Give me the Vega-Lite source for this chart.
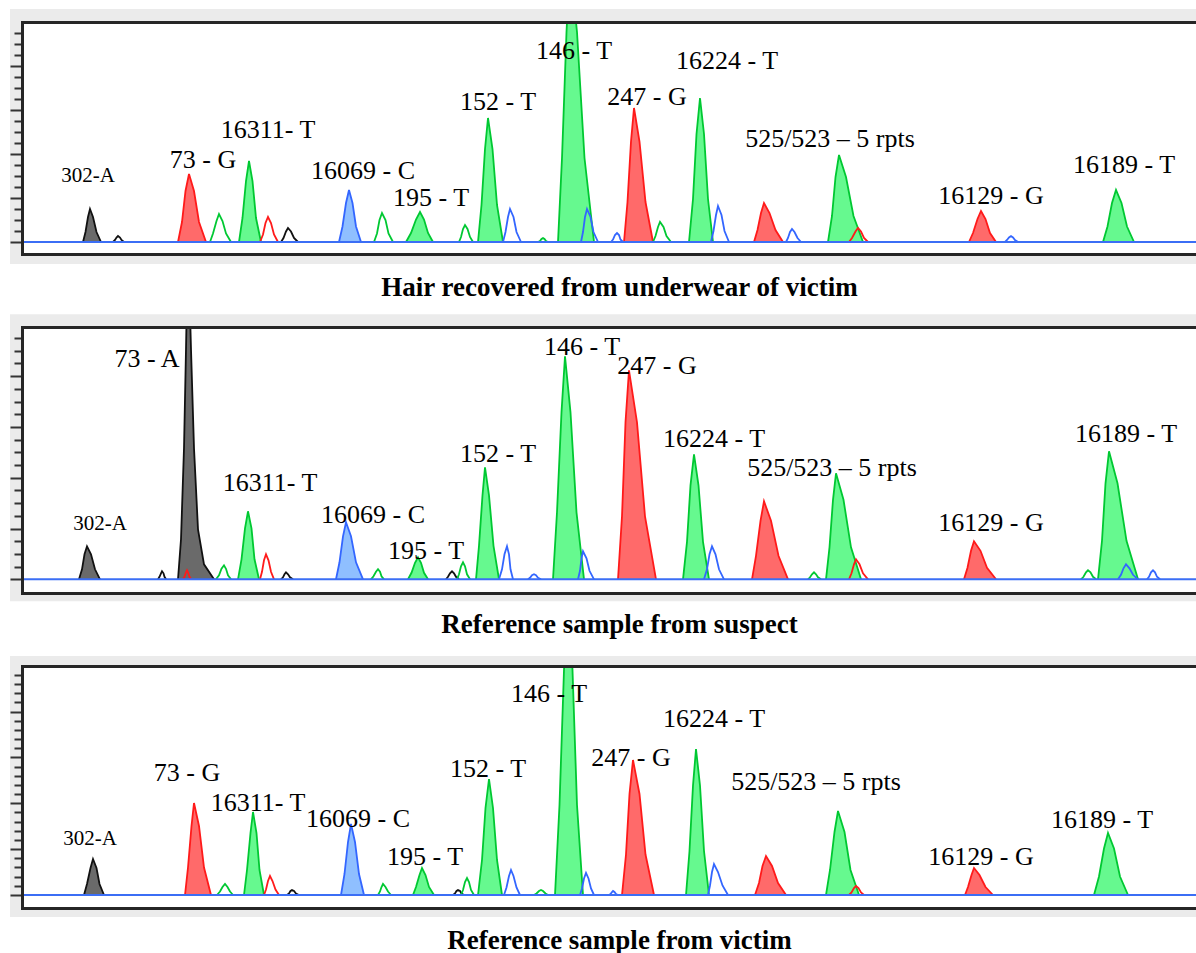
{
  "$schema": "https://vega.github.io/schema/vega-lite/v6.json",
  "padding": {"left": 9, "top": 8, "right": 0, "bottom": 0},
  "config": {"view": {"stroke": null}},
  "bounds": "flush",
  "spacing": 73,
  "resolve": {"scale": {"x": "independent", "y": "independent"}},
  "datasets": {
    "peaks": [
      {"panel": 1, "id": "a1", "dye": "black", "filled": true, "xs": [82,84.5,87,89,92,95.5,100], "ys": [0,10,25,33,25,10,0]},
      {"panel": 1, "id": "a2", "dye": "black", "filled": false, "xs": [112,114,115.5,117,119,120.5,123], "ys": [0,2,4.5,6,4.5,2,0]},
      {"panel": 1, "id": "a3", "dye": "red", "filled": true, "xs": [177,181,184.5,188,193,198,205], "ys": [0,20,51,68,51,20,0]},
      {"panel": 1, "id": "a4", "dye": "green", "filled": false, "xs": [209,212,215.5,218,221.5,225,230], "ys": [0,8.5,21,28,21,8.5,0]},
      {"panel": 1, "id": "a5", "dye": "green", "filled": true, "xs": [238,241.5,245,248,251.5,255,260], "ys": [0,24,61,81,61,24,0]},
      {"panel": 1, "id": "a6", "dye": "red", "filled": false, "xs": [259,262,264.5,267,270,273,277], "ys": [0,7.5,19,25,19,7.5,0]},
      {"panel": 1, "id": "a7", "dye": "black", "filled": false, "xs": [280,282.5,285,287,290,293,297], "ys": [0,4,10.5,14,10.5,4,0]},
      {"panel": 1, "id": "a8", "dye": "blue", "filled": true, "xs": [338,341.5,345,348,351.5,355,360], "ys": [0,15.5,39,52,39,15.5,0]},
      {"panel": 1, "id": "a9", "dye": "green", "filled": false, "xs": [373,376,378.5,381,384.5,387.5,392], "ys": [0,8.5,22,29,22,8.5,0]},
      {"panel": 1, "id": "a10", "dye": "green", "filled": true, "xs": [405,410,415,419,423,427,432], "ys": [0,9,22.5,30,22.5,9,0]},
      {"panel": 1, "id": "a11", "dye": "green", "filled": false, "xs": [458,460,462,464,466.5,469,472], "ys": [0,5,13,17,13,5,0]},
      {"panel": 1, "id": "a12", "dye": "green", "filled": true, "xs": [477,480.5,484,487,491.5,496,502], "ys": [0,37,93,124,93,37,0]},
      {"panel": 1, "id": "a13", "dye": "blue", "filled": false, "xs": [502,504.5,507,509,512.5,515.5,520], "ys": [0,10,25,33,25,10,0]},
      {"panel": 1, "id": "a14", "dye": "green", "filled": false, "xs": [537,539,540.5,542,543.5,545,547], "ys": [0,1,3,4,3,1,0]},
      {"panel": 1, "id": "a15", "dye": "green", "filled": true, "xs": [557,561,565.5,569,576,583.5,593], "ys": [0,84,210,280,210,84,0]},
      {"panel": 1, "id": "a16", "dye": "blue", "filled": false, "xs": [580,582,584,586,589.5,592.5,597], "ys": [0,10,25,33,25,10,0]},
      {"panel": 1, "id": "a17", "dye": "blue", "filled": false, "xs": [610,612,614,616,618,619.5,622], "ys": [0,2.5,7,9,7,2.5,0]},
      {"panel": 1, "id": "a18", "dye": "red", "filled": true, "xs": [623,626.5,630,633,638.5,644.5,652], "ys": [0,40,100.5,134,100.5,40,0]},
      {"panel": 1, "id": "a19", "dye": "green", "filled": false, "xs": [652,654.5,657,659,662.5,665.5,670], "ys": [0,6,15,20,15,6,0]},
      {"panel": 1, "id": "a20", "dye": "green", "filled": true, "xs": [688,692,695.5,699,703,707,712], "ys": [0,43,108,144,108,43,0]},
      {"panel": 1, "id": "a21", "dye": "blue", "filled": false, "xs": [710,712.5,715,717,720.5,723.5,728], "ys": [0,11,27,36,27,11,0]},
      {"panel": 1, "id": "a22", "dye": "red", "filled": true, "xs": [753,756.5,760,763,768.5,774.5,782], "ys": [0,12,29,39,29,12,0]},
      {"panel": 1, "id": "a23", "dye": "blue", "filled": false, "xs": [785,787,789,791,793.5,796.5,800], "ys": [0,4,10,13,10,4,0]},
      {"panel": 1, "id": "a24", "dye": "green", "filled": true, "xs": [827,831,834.5,838,845,852.5,862], "ys": [0,26,65,87,65,26,0]},
      {"panel": 1, "id": "a25", "dye": "red", "filled": false, "xs": [848,851,854.5,857,860,863,867], "ys": [0,4,10.5,14,10.5,4,0]},
      {"panel": 1, "id": "a26", "dye": "red", "filled": true, "xs": [968,972,976.5,980,984.5,989,995], "ys": [0,9,23,31,23,9,0]},
      {"panel": 1, "id": "a27", "dye": "blue", "filled": false, "xs": [1004,1006,1008,1010,1012,1014,1017], "ys": [0,2,4.5,6,4.5,2,0]},
      {"panel": 1, "id": "a28", "dye": "green", "filled": true, "xs": [1102,1106.5,1111,1115,1120.5,1126,1133], "ys": [0,15.5,39,52,39,15.5,0]},

      {"panel": 2, "id": "b1", "dye": "black", "filled": true, "xs": [78,81,83.5,86,90,94,99], "ys": [0,10,25,33,25,10,0]},
      {"panel": 2, "id": "b2", "dye": "black", "filled": false, "xs": [157,158.5,160,161,162.5,163.5,165], "ys": [0,2.5,6,8,6,2.5,0]},
      {"panel": 2, "id": "b3", "dye": "black", "filled": true, "xs": [177,180,183,185,187,190,193,197,203,213], "ys": [0,40,131,230,340,230,131,50,15,0]},
      {"panel": 2, "id": "b4", "dye": "red", "filled": false, "xs": [182,183.5,185,186,187,188.5,190], "ys": [0,2.5,7,9,7,2.5,0]},
      {"panel": 2, "id": "b5", "dye": "green", "filled": false, "xs": [215,218,220.5,223,225,227,230], "ys": [0,4,10.5,14,10.5,4,0]},
      {"panel": 2, "id": "b6", "dye": "green", "filled": true, "xs": [237,240.5,244,247,250.5,253.5,258], "ys": [0,20,51,68,51,20,0]},
      {"panel": 2, "id": "b7", "dye": "red", "filled": false, "xs": [259,261,263,265,267.5,270,273], "ys": [0,7.5,19,25,19,7.5,0]},
      {"panel": 2, "id": "b8", "dye": "black", "filled": false, "xs": [280,282,283.5,285,287,289,292], "ys": [0,2,5,7,5,2,0]},
      {"panel": 2, "id": "b9", "dye": "blue", "filled": true, "xs": [335,338.5,342,345,350,355,362], "ys": [0,17,43,57,43,17,0]},
      {"panel": 2, "id": "b10", "dye": "green", "filled": false, "xs": [370,372.5,375,377,379,380.5,383], "ys": [0,3,7.5,10,7.5,3,0]},
      {"panel": 2, "id": "b11", "dye": "green", "filled": true, "xs": [407,410.5,414,417,420,423,427], "ys": [0,6.5,16.5,22,16.5,6.5,0]},
      {"panel": 2, "id": "b12", "dye": "black", "filled": false, "xs": [445,447,449,451,453,455,458], "ys": [0,2.5,6,8,6,2.5,0]},
      {"panel": 2, "id": "b13", "dye": "green", "filled": false, "xs": [456,458,460,462,464,466,469], "ys": [0,5,13,17,13,5,0]},
      {"panel": 2, "id": "b14", "dye": "green", "filled": true, "xs": [475,478,481.5,484,488,492.5,498], "ys": [0,33.5,84,112,84,33.5,0]},
      {"panel": 2, "id": "b15", "dye": "blue", "filled": false, "xs": [498,501,503.5,506,508,509.5,512], "ys": [0,10,25,33,25,10,0]},
      {"panel": 2, "id": "b16", "dye": "blue", "filled": false, "xs": [527,529,531,533,535,537,540], "ys": [0,1.5,4,5,4,1.5,0]},
      {"panel": 2, "id": "b17", "dye": "green", "filled": true, "xs": [552,556,560.5,564,569.5,575.5,583], "ys": [0,67,167,223,167,67,0]},
      {"panel": 2, "id": "b18", "dye": "blue", "filled": false, "xs": [577,579,580.5,582,585.5,588.5,593], "ys": [0,8.5,21,28,21,8.5,0]},
      {"panel": 2, "id": "b19", "dye": "red", "filled": true, "xs": [617,621,624.5,628,636,644,655], "ys": [0,63,157,209,157,63,0]},
      {"panel": 2, "id": "b20", "dye": "green", "filled": true, "xs": [682,686,689.5,693,697.5,702,708], "ys": [0,37.5,94,125,94,37.5,0]},
      {"panel": 2, "id": "b21", "dye": "blue", "filled": false, "xs": [703,706,708.5,711,714.5,718,723], "ys": [0,10,25,33,25,10,0]},
      {"panel": 2, "id": "b22", "dye": "red", "filled": true, "xs": [751,755,759.5,763,770,777.5,787], "ys": [0,23.5,58.5,78,58.5,23.5,0]},
      {"panel": 2, "id": "b23", "dye": "green", "filled": false, "xs": [807,809,811,813,815,817,820], "ys": [0,2,5,7,5,2,0]},
      {"panel": 2, "id": "b24", "dye": "green", "filled": true, "xs": [825,828.5,832,835,842.5,850,860], "ys": [0,32,79.5,106,79.5,32,0]},
      {"panel": 2, "id": "b25", "dye": "red", "filled": false, "xs": [848,850.5,853,855,858.5,862,867], "ys": [0,6,15,20,15,6,0]},
      {"panel": 2, "id": "b26", "dye": "red", "filled": true, "xs": [963,966.5,970,973,979.5,986,995], "ys": [0,11.5,28.5,38,28.5,11.5,0]},
      {"panel": 2, "id": "b27", "dye": "green", "filled": false, "xs": [1080,1082.5,1085,1087,1089.5,1092,1095], "ys": [0,2.5,7,9,7,2.5,0]},
      {"panel": 2, "id": "b28", "dye": "green", "filled": true, "xs": [1097,1101,1104.5,1108,1116.5,1125.5,1137], "ys": [0,38.5,96,128,96,38.5,0]},
      {"panel": 2, "id": "b29", "dye": "blue", "filled": false, "xs": [1117,1120,1122.5,1125,1128.5,1132,1137], "ys": [0,4.5,11,15,11,4.5,0]},
      {"panel": 2, "id": "b30", "dye": "blue", "filled": false, "xs": [1146,1148,1150,1152,1154,1156,1159], "ys": [0,2.5,7,9,7,2.5,0]},

      {"panel": 3, "id": "c1", "dye": "black", "filled": true, "xs": [83,86,89.5,92,95.5,98.5,103], "ys": [0,11,27,36,27,11,0]},
      {"panel": 3, "id": "c2", "dye": "red", "filled": true, "xs": [184,187,190.5,193,198,203,210], "ys": [0,27.5,69,92,69,27.5,0]},
      {"panel": 3, "id": "c3", "dye": "green", "filled": false, "xs": [216,219,221.5,224,226.5,229,232], "ys": [0,3.5,8,11,8,3.5,0]},
      {"panel": 3, "id": "c4", "dye": "green", "filled": true, "xs": [243,246,249.5,252,255.5,258.5,263], "ys": [0,25,62,83,62,25,0]},
      {"panel": 3, "id": "c5", "dye": "red", "filled": false, "xs": [263,265,267,269,271.5,274.5,278], "ys": [0,5.5,14,19,14,5.5,0]},
      {"panel": 3, "id": "c6", "dye": "black", "filled": false, "xs": [286,288,289.5,291,293,295,298], "ys": [0,1.5,4,5,4,1.5,0]},
      {"panel": 3, "id": "c7", "dye": "blue", "filled": true, "xs": [340,343.5,347,350,354,358,363], "ys": [0,21,53,71,53,21,0]},
      {"panel": 3, "id": "c8", "dye": "green", "filled": false, "xs": [377,379,380.5,382,384.5,387,390], "ys": [0,3.5,8,11,8,3.5,0]},
      {"panel": 3, "id": "c9", "dye": "green", "filled": true, "xs": [412,415,418.5,421,424.5,428,433], "ys": [0,8,20,27,20,8,0]},
      {"panel": 3, "id": "c10", "dye": "black", "filled": false, "xs": [452,454,455.5,457,459,460.5,463], "ys": [0,1.5,4,5,4,1.5,0]},
      {"panel": 3, "id": "c11", "dye": "green", "filled": false, "xs": [460,462,464,466,468,470,473], "ys": [0,5,13,17,13,5,0]},
      {"panel": 3, "id": "c12", "dye": "green", "filled": true, "xs": [477,481,484.5,488,492,496,501], "ys": [0,35,87,116,87,35,0]},
      {"panel": 3, "id": "c13", "dye": "blue", "filled": false, "xs": [503,505.5,508,510,512.5,515.5,519], "ys": [0,7.5,19,25,19,7.5,0]},
      {"panel": 3, "id": "c14", "dye": "green", "filled": false, "xs": [533,535.5,538,540,542,544.5,547], "ys": [0,1.5,4,5,4,1.5,0]},
      {"panel": 3, "id": "c15", "dye": "green", "filled": true, "xs": [554,558.5,563,567,571.5,576,582], "ys": [0,90,225,300,225,90,0]},
      {"panel": 3, "id": "c16", "dye": "blue", "filled": false, "xs": [579,581,583,585,587.5,590,593], "ys": [0,6.5,16.5,22,16.5,6.5,0]},
      {"panel": 3, "id": "c17", "dye": "blue", "filled": false, "xs": [608,609.5,611,612,613.5,615,617], "ys": [0,1,3,4,3,1,0]},
      {"panel": 3, "id": "c18", "dye": "red", "filled": true, "xs": [621,625,628.5,632,638.5,644.5,653], "ys": [0,40.5,101,135,101,40.5,0]},
      {"panel": 3, "id": "c19", "dye": "green", "filled": true, "xs": [685,688.5,692,695,699,703,708], "ys": [0,44,109.5,146,109.5,44,0]},
      {"panel": 3, "id": "c20", "dye": "blue", "filled": false, "xs": [707,709,711,713,717,721.5,727], "ys": [0,9.5,23,31,23,9.5,0]},
      {"panel": 3, "id": "c21", "dye": "red", "filled": true, "xs": [754,758,761.5,765,771,777,785], "ys": [0,12,29,39,29,12,0]},
      {"panel": 3, "id": "c22", "dye": "green", "filled": true, "xs": [825,829,833.5,837,843.5,849.5,858], "ys": [0,25,63,84,63,25,0]},
      {"panel": 3, "id": "c23", "dye": "red", "filled": false, "xs": [848,850.5,853,855,857.5,860,863], "ys": [0,2.5,7,9,7,2.5,0]},
      {"panel": 3, "id": "c24", "dye": "red", "filled": true, "xs": [964,967,970.5,973,978.5,984.5,992], "ys": [0,8,20,27,20,8,0]},
      {"panel": 3, "id": "c25", "dye": "green", "filled": true, "xs": [1093,1098,1103,1107,1113,1119,1127], "ys": [0,18.5,46.5,62,46.5,18.5,0]}
    ],
    "labels": [
      {"panel": 1, "label": "302-A", "x": 87, "y": 66},
      {"panel": 1, "label": "73 - G", "x": 202, "y": 82},
      {"panel": 1, "label": "16311- T", "x": 267, "y": 112},
      {"panel": 1, "label": "16069 - C", "x": 362, "y": 71},
      {"panel": 1, "label": "195 - T", "x": 430, "y": 44},
      {"panel": 1, "label": "152 - T", "x": 497, "y": 140},
      {"panel": 1, "label": "146 - T", "x": 573, "y": 191},
      {"panel": 1, "label": "247 - G", "x": 646, "y": 145},
      {"panel": 1, "label": "16224 - T", "x": 726, "y": 181},
      {"panel": 1, "label": "525/523 – 5 rpts", "x": 829, "y": 103},
      {"panel": 1, "label": "16129 - G", "x": 990, "y": 46},
      {"panel": 1, "label": "16189 - T", "x": 1123, "y": 77},
      {"panel": 2, "label": "302-A", "x": 99, "y": 55},
      {"panel": 2, "label": "73 - A", "x": 146, "y": 220},
      {"panel": 2, "label": "16311- T", "x": 269, "y": 96},
      {"panel": 2, "label": "16069 - C", "x": 372, "y": 64},
      {"panel": 2, "label": "195 - T", "x": 425, "y": 28},
      {"panel": 2, "label": "152 - T", "x": 497, "y": 125},
      {"panel": 2, "label": "146 - T", "x": 581, "y": 232},
      {"panel": 2, "label": "247 - G", "x": 656, "y": 213},
      {"panel": 2, "label": "16224 - T", "x": 713, "y": 140},
      {"panel": 2, "label": "525/523 – 5 rpts", "x": 831, "y": 111},
      {"panel": 2, "label": "16129 - G", "x": 990, "y": 56},
      {"panel": 2, "label": "16189 - T", "x": 1125, "y": 145},
      {"panel": 3, "label": "302-A", "x": 89, "y": 56},
      {"panel": 3, "label": "73 - G", "x": 186, "y": 122},
      {"panel": 3, "label": "16311- T", "x": 257, "y": 92},
      {"panel": 3, "label": "16069 - C", "x": 357, "y": 76},
      {"panel": 3, "label": "195 - T", "x": 424, "y": 38},
      {"panel": 3, "label": "152 - T", "x": 487, "y": 126},
      {"panel": 3, "label": "146 - T", "x": 548, "y": 201},
      {"panel": 3, "label": "247 - G", "x": 630, "y": 137},
      {"panel": 3, "label": "16224 - T", "x": 713, "y": 176},
      {"panel": 3, "label": "525/523 – 5 rpts", "x": 815, "y": 113},
      {"panel": 3, "label": "16129 - G", "x": 980, "y": 38},
      {"panel": 3, "label": "16189 - T", "x": 1101, "y": 75}
    ]
  },
  "vconcat": [
    {
      "width": 1175, "height": 232,
      "title": {"text": "Hair recovered from underwear of victim", "orient": "bottom", "anchor": "middle", "offset": 11, "dx": 10, "font": "Liberation Serif", "fontSize": 27, "fontWeight": "bold", "color": "#000000"},
      "resolve": {"axis": {"x": "independent", "y": "independent"}},
      "layer": [
        {"data": {"values": [{}]}, "mark": {"type": "rect", "color": "#ebebeb"},
         "encoding": {
           "x": {"datum": 9, "type": "quantitative", "scale": {"domain": [21, 1196], "nice": false, "zero": false}, "axis": null},
           "x2": {"datum": 1196},
           "y": {"datum": 233, "type": "quantitative", "scale": {"domain": [-12, 220], "nice": false, "zero": false},
                 "axis": {"orient": "left", "zindex": 1, "values": [0,11,22,33,44,55,66,77,88,99,110,121,132,143,154,165,176,187,198,209], "labels": false, "title": null, "grid": false, "domain": true, "domainColor": "#262626", "domainWidth": 3, "domainCap": "square", "ticks": true, "tickColor": "#333333", "tickWidth": 2, "tickSize": {"condition": {"test": "datum.value % 44 === 0", "value": 12}, "value": 8}}},
           "y2": {"datum": -22}
         }},
        {"data": {"values": [{}]}, "mark": {"type": "rect", "color": "#ffffff"},
         "encoding": {
           "x": {"datum": 21, "type": "quantitative", "axis": {"orient": "bottom", "zindex": 1, "domain": true, "domainColor": "#262626", "domainWidth": 3, "ticks": false, "labels": false, "title": null, "grid": false}},
           "x2": {"datum": 1196},
           "y": {"datum": 220, "type": "quantitative", "axis": null},
           "y2": {"datum": -12}
         }},
        {"data": {"name": "peaks"},
         "transform": [{"filter": "datum.panel === 1 && datum.filled"}, {"flatten": ["xs", "ys"], "as": ["x", "y"]}],
         "mark": {"type": "area", "clip": true, "interpolate": "linear"},
         "encoding": {
           "x": {"field": "x", "type": "quantitative", "scale": {"domain": [21, 1196], "nice": false, "zero": false}, "axis": {"orient": "top", "zindex": 1, "domain": true, "domainColor": "#262626", "domainWidth": 3, "ticks": false, "labels": false, "title": null, "grid": false}},
           "y": {"field": "y", "type": "quantitative", "stack": null, "axis": null},
           "fill": {"field": "dye", "type": "nominal", "scale": {"domain": ["black", "blue", "red", "green"], "range": ["#6a6a6a", "#8fbfff", "#ff6a6a", "#66f98f"]}, "legend": null},
           "detail": {"field": "id"}
         }},
        {"data": {"name": "peaks"},
         "transform": [{"filter": "datum.panel === 1"}, {"flatten": ["xs", "ys"], "as": ["x", "y"]}],
         "mark": {"type": "line", "clip": true, "strokeWidth": 1.8},
         "encoding": {
           "x": {"field": "x", "type": "quantitative", "axis": null},
           "y": {"field": "y", "type": "quantitative", "axis": null},
           "stroke": {"field": "dye", "type": "nominal", "scale": {"domain": ["black", "blue", "red", "green"], "range": ["#111111", "#3366ff", "#ff1a1a", "#00c832"]}, "legend": null},
           "detail": {"field": "id"}
         }},
        {"data": {"values": [{}]}, "mark": {"type": "rule", "color": "#3b6ef5", "strokeWidth": 2},
         "encoding": {"y": {"datum": 0, "type": "quantitative", "axis": null}}},
        {"data": {"name": "labels"},
         "transform": [{"filter": "datum.panel === 1 && datum.label !== '302-A'"}],
         "mark": {"type": "text", "font": "Liberation Serif", "fontSize": 26, "color": "#000000", "align": "center", "baseline": "middle"},
         "encoding": {"x": {"field": "x", "type": "quantitative", "axis": null}, "y": {"field": "y", "type": "quantitative", "axis": null}, "text": {"field": "label"}}},
        {"data": {"name": "labels"},
         "transform": [{"filter": "datum.panel === 1 && datum.label === '302-A'"}],
         "mark": {"type": "text", "font": "Liberation Serif", "fontSize": 21, "color": "#000000", "align": "center", "baseline": "middle"},
         "encoding": {"x": {"field": "x", "type": "quantitative", "axis": null}, "y": {"field": "y", "type": "quantitative", "axis": null}, "text": {"field": "label"}}}
      ]
    },
    {
      "width": 1175, "height": 266,
      "title": {"text": "Reference sample from suspect", "orient": "bottom", "anchor": "middle", "offset": 11, "dx": 10, "font": "Liberation Serif", "fontSize": 27, "fontWeight": "bold", "color": "#000000"},
      "resolve": {"axis": {"x": "independent", "y": "independent"}},
      "layer": [
        {"data": {"values": [{}]}, "mark": {"type": "rect", "color": "#ebebeb"},
         "encoding": {
           "x": {"datum": 9, "type": "quantitative", "scale": {"domain": [21, 1196], "nice": false, "zero": false}, "axis": null},
           "x2": {"datum": 1196},
           "y": {"datum": 265, "type": "quantitative", "scale": {"domain": [-13.7, 252.3], "nice": false, "zero": false},
                 "axis": {"orient": "left", "zindex": 1, "values": [0,12.7,25.4,38.1,50.8,63.5,76.2,88.9,101.6,114.3,127,139.7,152.4,165.1,177.8,190.5,203.2,215.9,228.6,241.3], "labels": false, "title": null, "grid": false, "domain": true, "domainColor": "#262626", "domainWidth": 3, "domainCap": "square", "ticks": true, "tickColor": "#333333", "tickWidth": 2, "tickSize": {"condition": {"test": "indexof([0, 50.8, 101.6, 152.4, 203.2], datum.value) >= 0", "value": 12}, "value": 8}}},
           "y2": {"datum": -22}
         }},
        {"data": {"values": [{}]}, "mark": {"type": "rect", "color": "#ffffff"},
         "encoding": {
           "x": {"datum": 21, "type": "quantitative", "axis": {"orient": "bottom", "zindex": 1, "domain": true, "domainColor": "#262626", "domainWidth": 3, "ticks": false, "labels": false, "title": null, "grid": false}},
           "x2": {"datum": 1196},
           "y": {"datum": 252.3, "type": "quantitative", "axis": null},
           "y2": {"datum": -13.7}
         }},
        {"data": {"name": "peaks"},
         "transform": [{"filter": "datum.panel === 2 && datum.filled"}, {"flatten": ["xs", "ys"], "as": ["x", "y"]}],
         "mark": {"type": "area", "clip": true, "interpolate": "linear"},
         "encoding": {
           "x": {"field": "x", "type": "quantitative", "scale": {"domain": [21, 1196], "nice": false, "zero": false}, "axis": {"orient": "top", "zindex": 1, "domain": true, "domainColor": "#262626", "domainWidth": 3, "ticks": false, "labels": false, "title": null, "grid": false}},
           "y": {"field": "y", "type": "quantitative", "stack": null, "axis": null},
           "fill": {"field": "dye", "type": "nominal", "scale": {"domain": ["black", "blue", "red", "green"], "range": ["#6a6a6a", "#8fbfff", "#ff6a6a", "#66f98f"]}, "legend": null},
           "detail": {"field": "id"}
         }},
        {"data": {"name": "peaks"},
         "transform": [{"filter": "datum.panel === 2"}, {"flatten": ["xs", "ys"], "as": ["x", "y"]}],
         "mark": {"type": "line", "clip": true, "strokeWidth": 1.8},
         "encoding": {
           "x": {"field": "x", "type": "quantitative", "axis": null},
           "y": {"field": "y", "type": "quantitative", "axis": null},
           "stroke": {"field": "dye", "type": "nominal", "scale": {"domain": ["black", "blue", "red", "green"], "range": ["#111111", "#3366ff", "#ff1a1a", "#00c832"]}, "legend": null},
           "detail": {"field": "id"}
         }},
        {"data": {"values": [{}]}, "mark": {"type": "rule", "color": "#3b6ef5", "strokeWidth": 2},
         "encoding": {"y": {"datum": 0, "type": "quantitative", "axis": null}}},
        {"data": {"name": "labels"},
         "transform": [{"filter": "datum.panel === 2 && datum.label !== '302-A'"}],
         "mark": {"type": "text", "font": "Liberation Serif", "fontSize": 26, "color": "#000000", "align": "center", "baseline": "middle"},
         "encoding": {"x": {"field": "x", "type": "quantitative", "axis": null}, "y": {"field": "y", "type": "quantitative", "axis": null}, "text": {"field": "label"}}},
        {"data": {"name": "labels"},
         "transform": [{"filter": "datum.panel === 2 && datum.label === '302-A'"}],
         "mark": {"type": "text", "font": "Liberation Serif", "fontSize": 21, "color": "#000000", "align": "center", "baseline": "middle"},
         "encoding": {"x": {"field": "x", "type": "quantitative", "axis": null}, "y": {"field": "y", "type": "quantitative", "axis": null}, "text": {"field": "label"}}}
      ]
    },
    {
      "width": 1175, "height": 242,
      "title": {"text": "Reference sample from victim", "orient": "bottom", "anchor": "middle", "offset": 11, "dx": 10, "font": "Liberation Serif", "fontSize": 27, "fontWeight": "bold", "color": "#000000"},
      "resolve": {"axis": {"x": "independent", "y": "independent"}},
      "layer": [
        {"data": {"values": [{}]}, "mark": {"type": "rect", "color": "#ebebeb"},
         "encoding": {
           "x": {"datum": 9, "type": "quantitative", "scale": {"domain": [21, 1196], "nice": false, "zero": false}, "axis": null},
           "x2": {"datum": 1196},
           "y": {"datum": 239, "type": "quantitative", "scale": {"domain": [-13, 229], "nice": false, "zero": false},
                 "axis": {"orient": "left", "zindex": 1, "values": [0,9.17,18.34,27.51,36.68,45.85,55.02,64.19,73.36,82.53,91.7,100.87,110.04,119.21,128.38,137.55,146.72,155.89,165.06,174.23,183.4,192.57,201.74,210.91,220.08], "labels": false, "title": null, "grid": false, "domain": true, "domainColor": "#262626", "domainWidth": 3, "domainCap": "square", "ticks": true, "tickColor": "#333333", "tickWidth": 2, "tickSize": {"condition": {"test": "indexof([0, 45.85, 91.7, 137.55, 183.4], datum.value) >= 0", "value": 12}, "value": 8}}},
           "y2": {"datum": -22}
         }},
        {"data": {"values": [{}]}, "mark": {"type": "rect", "color": "#ffffff"},
         "encoding": {
           "x": {"datum": 21, "type": "quantitative", "axis": {"orient": "bottom", "zindex": 1, "domain": true, "domainColor": "#262626", "domainWidth": 3, "ticks": false, "labels": false, "title": null, "grid": false}},
           "x2": {"datum": 1196},
           "y": {"datum": 229, "type": "quantitative", "axis": null},
           "y2": {"datum": -13}
         }},
        {"data": {"name": "peaks"},
         "transform": [{"filter": "datum.panel === 3 && datum.filled"}, {"flatten": ["xs", "ys"], "as": ["x", "y"]}],
         "mark": {"type": "area", "clip": true, "interpolate": "linear"},
         "encoding": {
           "x": {"field": "x", "type": "quantitative", "scale": {"domain": [21, 1196], "nice": false, "zero": false}, "axis": {"orient": "top", "zindex": 1, "domain": true, "domainColor": "#262626", "domainWidth": 3, "ticks": false, "labels": false, "title": null, "grid": false}},
           "y": {"field": "y", "type": "quantitative", "stack": null, "axis": null},
           "fill": {"field": "dye", "type": "nominal", "scale": {"domain": ["black", "blue", "red", "green"], "range": ["#6a6a6a", "#8fbfff", "#ff6a6a", "#66f98f"]}, "legend": null},
           "detail": {"field": "id"}
         }},
        {"data": {"name": "peaks"},
         "transform": [{"filter": "datum.panel === 3"}, {"flatten": ["xs", "ys"], "as": ["x", "y"]}],
         "mark": {"type": "line", "clip": true, "strokeWidth": 1.8},
         "encoding": {
           "x": {"field": "x", "type": "quantitative", "axis": null},
           "y": {"field": "y", "type": "quantitative", "axis": null},
           "stroke": {"field": "dye", "type": "nominal", "scale": {"domain": ["black", "blue", "red", "green"], "range": ["#111111", "#3366ff", "#ff1a1a", "#00c832"]}, "legend": null},
           "detail": {"field": "id"}
         }},
        {"data": {"values": [{}]}, "mark": {"type": "rule", "color": "#3b6ef5", "strokeWidth": 2},
         "encoding": {"y": {"datum": 0, "type": "quantitative", "axis": null}}},
        {"data": {"name": "labels"},
         "transform": [{"filter": "datum.panel === 3 && datum.label !== '302-A'"}],
         "mark": {"type": "text", "font": "Liberation Serif", "fontSize": 26, "color": "#000000", "align": "center", "baseline": "middle"},
         "encoding": {"x": {"field": "x", "type": "quantitative", "axis": null}, "y": {"field": "y", "type": "quantitative", "axis": null}, "text": {"field": "label"}}},
        {"data": {"name": "labels"},
         "transform": [{"filter": "datum.panel === 3 && datum.label === '302-A'"}],
         "mark": {"type": "text", "font": "Liberation Serif", "fontSize": 21, "color": "#000000", "align": "center", "baseline": "middle"},
         "encoding": {"x": {"field": "x", "type": "quantitative", "axis": null}, "y": {"field": "y", "type": "quantitative", "axis": null}, "text": {"field": "label"}}}
      ]
    }
  ]
}
